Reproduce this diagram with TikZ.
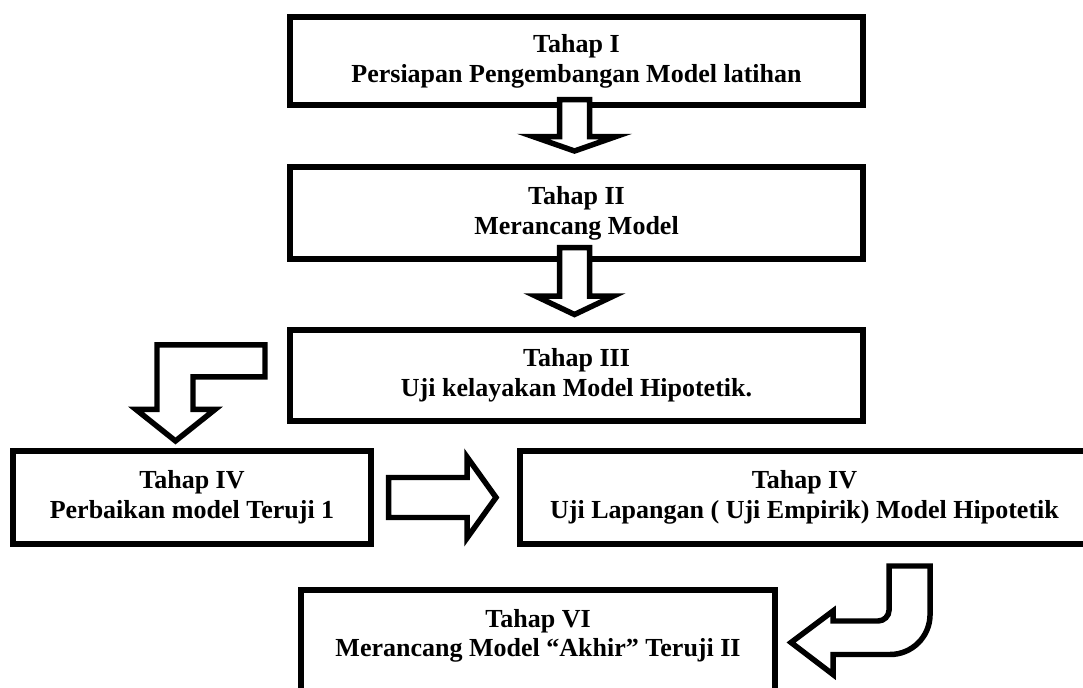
\documentclass[tikz,border=0pt]{standalone}
\usepackage{fontspec}
\setmainfont{Liberation Serif}
\newcommand{\pxu}{0.025cm}

\begin{document}
\begin{tikzpicture}[x=\pxu, y=\pxu,
                    stage node/.style={draw,line width=4.3pt,align=center,inner sep=0pt,
                      font=\bfseries\fontsize{18.5}{21.2}\selectfont},
                    block arrow/.style={draw,fill=white,line width=3.9pt,line join=miter}]

  \useasboundingbox (0,0) rectangle (1083,688);
  \clip (0,0) rectangle (1083,688);

  \node[stage node,minimum width=573*\pxu,minimum height=88*\pxu] (tahap1) at (576.5,627) {Tahap I\\Persiapan Pengembangan Model latihan};
  \node[stage node,minimum width=573*\pxu,minimum height=92*\pxu] (tahap2) at (576.5,475) {Tahap II\\Merancang Model};
  \node[stage node,minimum width=573*\pxu,minimum height=91*\pxu] (tahap3) at (576.5,312.5) {Tahap III\\Uji kelayakan Model Hipotetik.};
  \node[stage node,minimum width=358*\pxu,minimum height=93*\pxu] (tahap4a) at (192,190.5) {Tahap IV\\Perbaikan model Teruji 1};
  \node[stage node,minimum width=569*\pxu,minimum height=93*\pxu] (tahap4b) at (804.5,190.5) {Tahap IV\\Uji Lapangan ( Uji Empirik) Model Hipotetik};
  \node[stage node,minimum width=474*\pxu,anchor=north west,inner ysep=19*\pxu,text depth=110*\pxu] (tahap6) at (298,101) {Tahap VI\\Merancang Model “Akhir” Teruji II};

  % block arrows between the stages
  \draw[block arrow] (tahap1.south) ++(-17,8.5) -- ++(0,-37) -- ++(-26.5,0) -- ++(41.5,-14.5)
    -- ++(41.5,14.5) -- ++(-26.5,0) -- ++(0,37) -- cycle;
  \draw[block arrow] (tahap2.south) ++(-17,14.5) -- ++(0,-48.5) -- ++(-24,0) -- ++(39,-18.5)
    -- ++(39,18.5) -- ++(-24,0) -- ++(0,48.5) -- cycle;
  \draw[block arrow] (tahap4a.north) ++(-16.5,7) -- ++(39.5,31.5) -- ++(-22,0) -- ++(0,32.5)
    -- ++(72,0) -- ++(0,32) -- ++(-108,0) -- ++(0,-64.5) -- ++(-21,0) -- cycle;
  \draw[block arrow] (tahap4a.east) ++(14.5,20) -- ++(78.5,0) -- ++(0,20.5) -- ++(29,-40.5)
    -- ++(-29,-40.5) -- ++(0,20.5) -- ++(-78.5,0) -- cycle;
  \draw[block arrow] (tahap6.north east) ++(13,-55.5) -- ++(42,31.5) -- ++(0,-10) -- ++(45,0)
    arc[start angle=-90,end angle=0,radius=11] -- ++(0,44) -- ++(41,0) -- ++(0,-48.5)
    arc[start angle=0,end angle=-90,radius=40] -- ++(-57,0) -- ++(0,-20) -- cycle;

\end{tikzpicture}
\end{document}
